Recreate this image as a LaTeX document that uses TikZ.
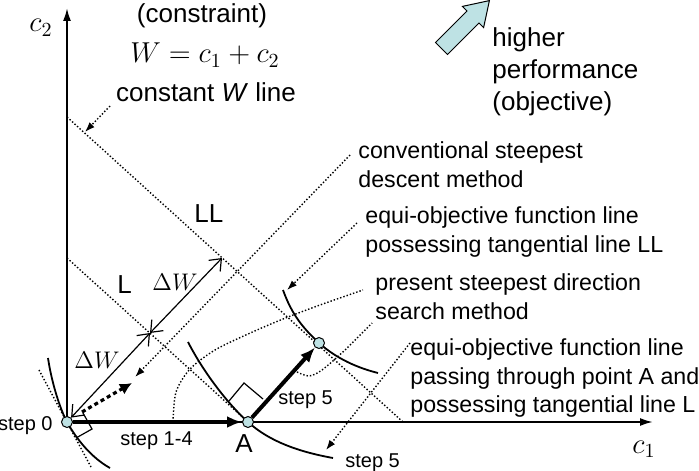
\documentclass[tikz,border=0pt]{standalone}
\usepackage{fontspec}
\setmainfont{Liberation Sans}
\usetikzlibrary{arrows.meta,backgrounds}

\definecolor{pointblue}{RGB}{190,226,228}

\begin{document}
\begin{tikzpicture}[x=0.5pt,y=-0.5pt,
  pt/.style={circle,draw,fill=pointblue,inner sep=0pt,minimum size=5.5pt,line width=0.5pt},
  axis/.style={line width=1pt,-{Latex[length=6.5pt,width=4pt]}},
  eqline/.style={line width=0.9pt},
  wline/.style={line width=0.7pt,densely dotted},
  lead/.style={line width=0.7pt,densely dotted,-{Latex[length=5pt,width=3.5pt]}},
  dw/.style={line width=0.6pt,{Straight Barb[length=5pt,width=8pt]}-{Straight Barb[length=5pt,width=8pt]}},
  stepline/.style={line width=2pt,-{Latex[length=7.5pt,width=6pt]}},
  txt/.style={inner sep=0pt,font=\fontsize{11.6}{14.2}\selectfont,align=left},
  big/.style={inner sep=0pt,font=\fontsize{13}{16}\selectfont,align=left},
  small/.style={inner sep=0pt,font=\fontsize{10}{12}\selectfont}]

  \useasboundingbox (0,0) rectangle (699,470);
  \clip (0,0) rectangle (699,470);

  \node[pt] (O) at (67,422) {}; % step 0
  \node[pt] (A) at (248,422) {}; % point A
  \node[pt] (B) at (319,343) {}; % after step 5

  \coordinate (c1end) at (653,422);
  \coordinate (c2end) at (67,8);
  \coordinate (L0) at (67,258);
  \coordinate (LL0) at (67,117);
  \coordinate (LL1) at (403,422);
  \coordinate (P) at (150,333);
  \coordinate (Q) at (222,258);

  \begin{scope}[on background layer]
    \draw[axis] (O.center) -- (c1end);
    \draw[axis] (O.center) -- (c2end);
    % constant W lines
    \draw[wline] (L0) -- (A.center);
    \draw[wline] (LL0) -- (LL1);
    % equi-objective lines
    \draw[eqline] (48,358) .. controls (52,385) and (61,411) .. (O.center) .. controls (77,440) and (92,458) .. (110,468);
    \draw[eqline] (188,342) .. controls (205,375) and (230,406) .. (A.center) .. controls (270,442) and (300,452) .. (333,458);
    \draw[eqline] (283,290) .. controls (292,315) and (303,328) .. (B.center) .. controls (337,359) and (358,368) .. (378,373);
    \draw[wline] (39,370) -- (91,467); % tangent at step 0
    % search method
    \draw[wline] plot[smooth] coordinates {(173,422) (176,392) (190,369) (215,350) (248,334) (283,319) (320,305) (363,290)};
    \draw[wline] plot[smooth] coordinates {(297,372) (309,376) (322,370) (345,350) (372,323)};
  \end{scope}

  % right angles
  \draw[line width=0.6pt] (76,438) -- (92,429) -- (83,413);
  \draw[line width=0.6pt] (229,401) -- (244,383) -- (263,399);

  \draw[dw] (O) -- (P);
  \draw[dw] (P) -- (Q);
  \draw[line width=1.6pt,dash pattern=on 2pt off 1.6pt,-{Latex[length=6pt,width=6pt]}] (82,412) -- (132,383);

  \draw[stepline] (O) -- (A); % step 1-4
  \draw[stepline] (A) -- (B); % step 5

  % higher performance arrow
  \filldraw[fill=pointblue,line width=0.5pt] (435.5,42.5) -- (467,11) -- (462.4,6.4) -- (489.4,0.6) -- (483.6,27.6) -- (479,23) -- (447.5,54.5) -- cycle;

  % labels
  \node[anchor=base] (c2lbl) at (41,32) {\fontsize{14}{16}\selectfont $c_2$};
  \node[anchor=base] (c1lbl) at (644,453) {\fontsize{14}{16}\selectfont $c_1$};
  \node[big,anchor=base] (cons) at (202,23) {(constraint)};
  \node[anchor=base,inner sep=0pt] (Weq) at (205,63) {\fontsize{14}{16}\selectfont $W = c_1 + c_2$};
  \node[big,anchor=base] (cw) at (206,102) {constant \textit{W} line};
  \node[big,anchor=base west] (LLlbl) at (194,222) {LL};
  \node[big,anchor=base west] (Llbl) at (117,293) {L};
  \node[anchor=base,inner sep=0pt] (dw1) at (97,368) {\fontsize{13}{15}\selectfont $\Delta W$};
  \node[anchor=base,inner sep=0pt] (dw2) at (175,290) {\fontsize{13}{15}\selectfont $\Delta W$};
  \node[big,anchor=north west] (hp) at (492,27.5) {higher\\performance\\(objective)};
  \node[txt,anchor=north west] (conv) at (358,141.4) {conventional steepest\\descent method};
  \node[txt,anchor=north west] (eqLL) at (365,206.7) {equi-objective function line\\possessing tangential line LL};
  \node[txt,anchor=north west] (pres) at (375,273.4) {present steepest direction\\search method};
  \node[txt,anchor=north west] (eqA) at (410,338.4) {equi-objective function line\\passing through point A and\\possessing tangential line L};

  \node[small,anchor=base east] (s0) at (53,430) {step 0};
  \node[small,anchor=base west] (s14) at (120,445) {step 1-4};
  \node[big,anchor=base] (Albl) at (244,452) {A};
  \node[small,anchor=base west] (s5a) at (278,404) {step 5};
  \node[small,anchor=base west] (s5b) at (345,467) {step 5};

  % leaders
  \coordinate (cw0) at (110,106);
  \coordinate (cw1) at (85,132);
  \coordinate (conv0) at (350,155);
  \coordinate (conv1) at (135,377);
  \coordinate (eqLL0) at (357,223);
  \coordinate (eqLL1) at (287,290);
  \coordinate (eqA0) at (410,343);
  \coordinate (eqA1) at (326,450);
  \draw[lead] (cw0) -- (cw1);
  \draw[lead] (conv0) -- (conv1);
  \draw[lead] (eqLL0) -- (eqLL1);
  \draw[lead] (eqA0) -- (eqA1);
\end{tikzpicture}
\end{document}
